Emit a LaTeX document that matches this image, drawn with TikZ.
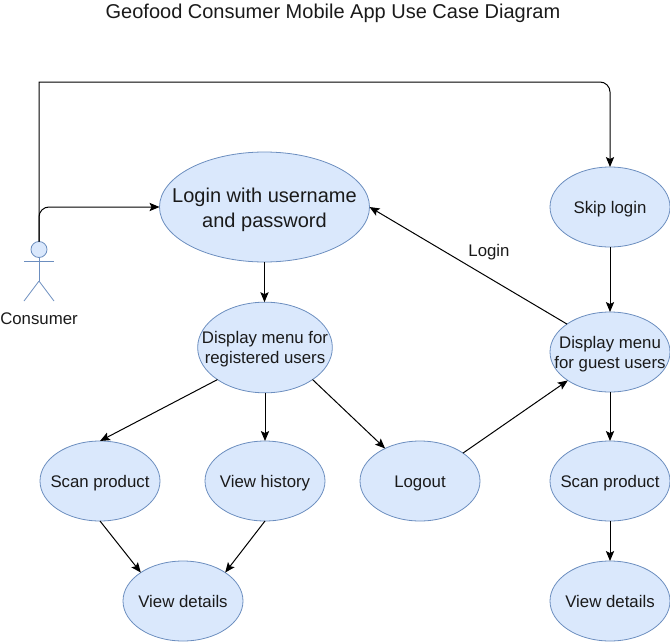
\documentclass[tikz,border=0pt]{standalone}
\usepackage{fontspec}
\setmainfont{Liberation Sans}
\usetikzlibrary{shapes.geometric,arrows.meta}
\definecolor{ucfill}{HTML}{DAE8FC}
\definecolor{ucline}{HTML}{6C8EBF}
\definecolor{uctext}{HTML}{1A1A1A}
\newcommand{\uctxt}[1]{\smash{\makebox[0pt]{\raisebox{-4.6pt}{\begin{tabular}{@{}c@{}}#1\end{tabular}}}}}
\newcommand{\uctxtbig}[1]{\smash{\makebox[0pt]{\raisebox{-5.5pt}{\begin{tabular}{@{}c@{}}#1\end{tabular}}}}}
\tikzset{
  uc/.style={ellipse,draw=ucline,fill=ucfill,line width=0.6pt,inner sep=0pt,outer sep=0pt,text=uctext,font=\fontsize{12.6}{15}\selectfont,minimum width=90pt,minimum height=60pt},
  conn/.style={draw=black,line width=0.75pt,-{Stealth[length=7.5pt,width=6.2pt,inset=1.5pt]}},
  actorline/.style={draw=ucline,line width=0.6pt},
  plain/.style={text=uctext,inner sep=0pt,font=\fontsize{12.6}{15}\selectfont}
}
\begin{document}
\begin{tikzpicture}[x=0.75pt,y=-0.75pt]
\useasboundingbox (0,0) rectangle (670,642);
\node[plain,font=\fontsize{15}{18}\selectfont] (title) at (333,13.5) {Geofood Consumer Mobile App Use Case Diagram};

\node[uc,minimum width=157.5pt,minimum height=82.5pt,font=\fontsize{15}{18.75}\selectfont] (login) at (264.5,207) {\uctxtbig{Login with username\\and password}};
\node[uc,minimum width=101pt,minimum height=68pt] (menu) at (265,347.5) {\uctxt{Display menu for\\registered users}};
\node[uc] (scan) at (100,481) {\uctxt{Scan product}};
\node[uc] (history) at (265,481) {\uctxt{View history}};
\node[uc] (logout) at (420,481) {\uctxt{Logout}};
\node[uc] (details) at (183,601) {\uctxt{View details}};
\node[uc] (skip) at (610,207) {\uctxt{Skip login}};
\node[uc] (guest) at (610,352) {\uctxt{Display menu\\for guest users}};
\node[uc] (gscan) at (610,481) {\uctxt{Scan product}};
\node[uc] (gdetails) at (610,601) {\uctxt{View details}};

\node[circle,draw=ucline,fill=ucfill,line width=0.6pt,minimum size=12pt,inner sep=0pt,outer sep=0pt] (head) at (39,249.5) {};
\coordinate (hip) at (39,281);
\draw[actorline] (head.south) -- (hip);
\draw[actorline] (24,261.5) -- (54,261.5);
\draw[actorline] (hip) -- (24,301);
\draw[actorline] (hip) -- (54,301);
\node[plain] (consumer) at (39,319) {Consumer};
\node[plain] (loginlabel) at (489,252.5) {Login};

\draw[conn,rounded corners=7.5pt] (head.north) -- (head.north |- login.west) -- (login.west);
\coordinate (topleft) at (39,82);
\coordinate (topmid) at (300,82);
\draw[conn] (head.north) -- (topleft) -- (topmid) [rounded corners=7.5pt] -- (topmid -| skip.north) -- (skip.north);
\draw[conn] (login.south) -- (login.south |- menu.north);
\draw[conn] (menu.214) -- (scan.north);
\draw[conn] (menu.south) -- (history.north);
\draw[conn] (menu.-34) -- (logout.137);
\draw[conn] (logout.33) -- (guest.214);
\draw[conn] (guest.147) -- (login.east);
\draw[conn] (skip.south) -- (guest.north);
\draw[conn] (guest.south) -- (gscan.north);
\draw[conn] (gscan.south) -- (gdetails.north);
\draw[conn] (scan.south) -- (details.146);
\draw[conn] (history.south) -- (details.34);
\end{tikzpicture}
\end{document}
